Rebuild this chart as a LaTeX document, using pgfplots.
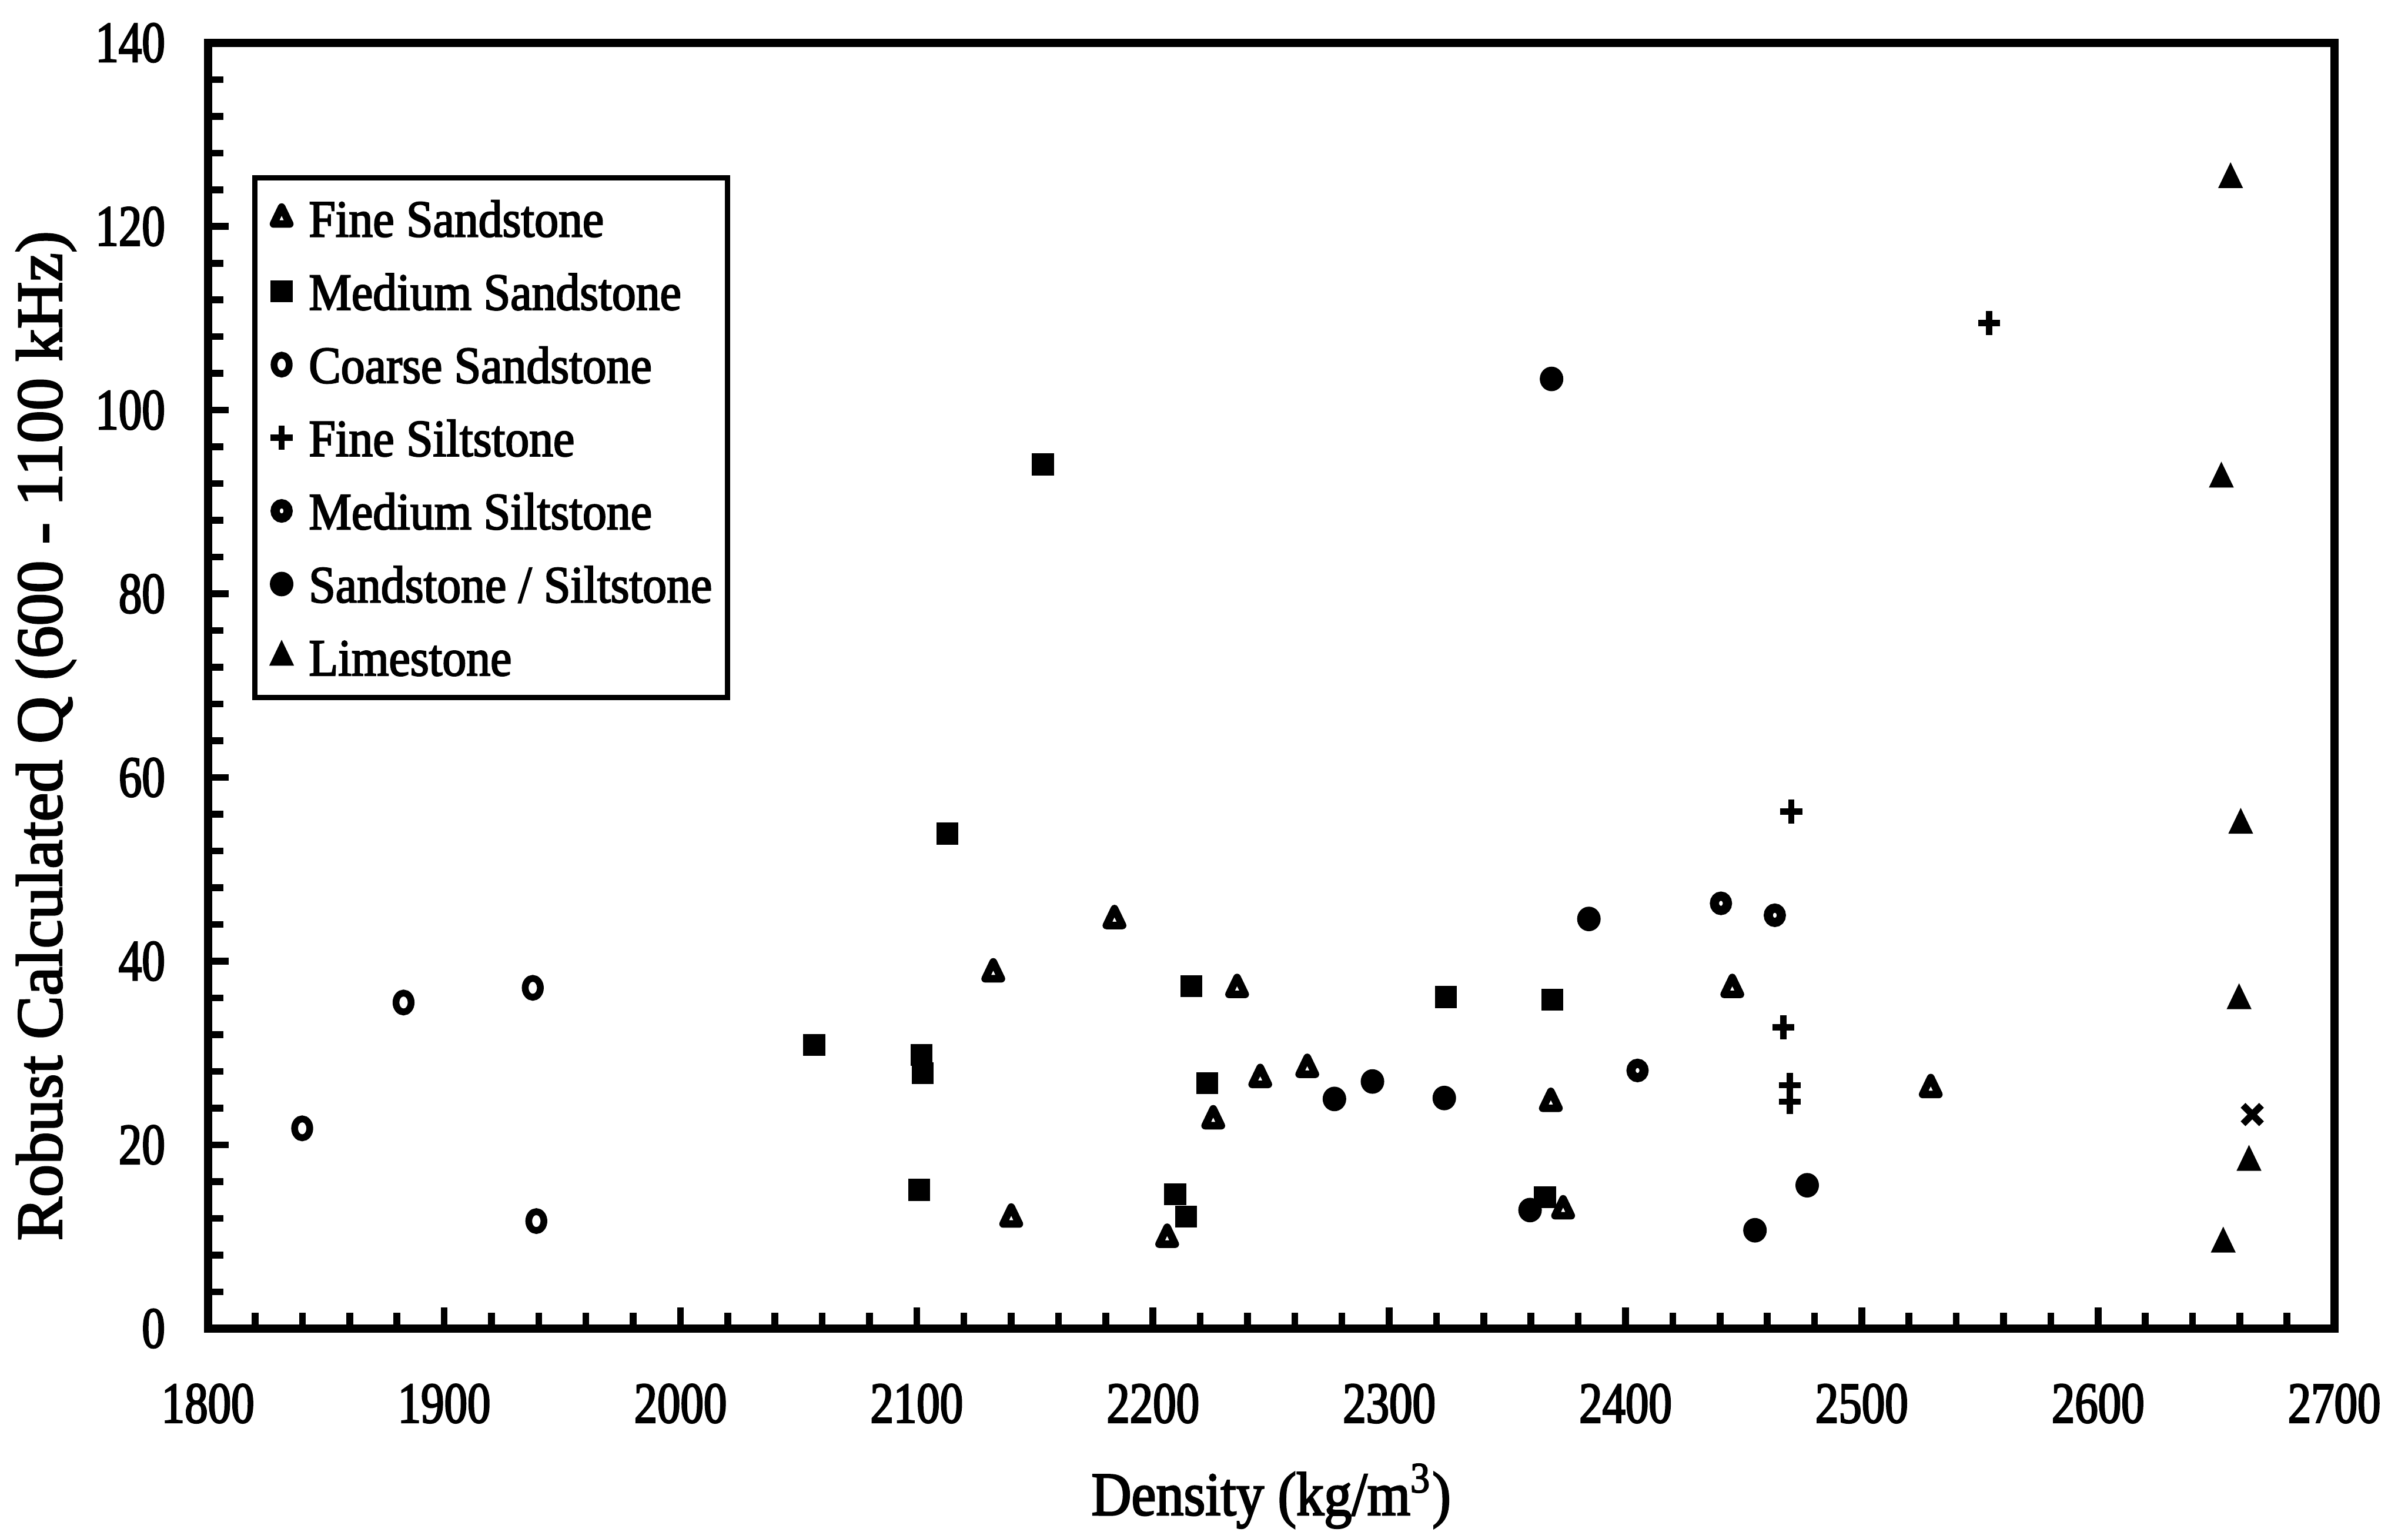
\documentclass[border=0pt]{standalone}
\usepackage{fontspec}
\setmainfont{Liberation Serif}[FakeBold=2.5]
\newfontfamily\tickfont{Liberation Serif}[FakeStretch=0.8, FakeBold=2.5]
\newfontfamily\labfont{Liberation Serif}[FakeStretch=0.9, FakeBold=2.5]
\newfontfamily\legfont{Liberation Serif}[FakeStretch=0.92, FakeBold=2.5]
\usepackage{pgfplots}
\pgfplotsset{compat=1.18}

\begin{document}
\begin{tikzpicture}
\useasboundingbox (-39.8pt,-38.9pt) rectangle (421.1pt,254.3pt);
\begin{axis}[
  at={(0pt,0pt)}, anchor=south west,
  scale only axis, width=407pt, height=246.1pt,
  xmin=1800, xmax=2700, ymin=0, ymax=140,
  xtick={1800,1900,...,2700}, ytick={0,20,...,140},
  minor x tick num=4, minor y tick num=4,
  xtick pos=bottom, ytick pos=left,
  tick align=inside,
  major tick length=4pt, minor tick length=3pt,
  every tick/.style={black, line width=1.3pt},
  axis line style={line width=1.6pt, line join=miter},
  /pgf/number format/assume math mode=true,
  /pgf/number format/1000 sep={},
  xticklabel style={font=\tickfont\fontsize{11.1}{12}\selectfont, anchor=base, inner sep=0pt, yshift=-18pt},
  yticklabel style={font=\tickfont\fontsize{11.1}{12}\selectfont, anchor=east, inner sep=0pt, xshift=-8pt},
  xlabel={Density (kg/m\textsuperscript{3})},
  ylabel={Robust Calculated Q (600 - 1100 kHz)},
  xlabel style={font=\labfont\fontsize{11.8}{13}\selectfont, at={(axis description cs:0.5,0)}, anchor=base, yshift=-35.7pt, inner sep=0pt},
  ylabel style={font=\rmfamily\fontsize{12.5}{13}\selectfont, at={(axis description cs:-0.0762,0.461)}, anchor=center, inner sep=0pt},
  legend style={at={(0.0209,0.897)}, anchor=north west, draw=black, line width=1pt, fill=white,
    inner xsep=3pt, inner ysep=3.25pt, row sep=5pt,
    font=\legfont\fontsize{10}{11}\selectfont,
    nodes={inner sep=0pt, text height=8pt, text depth=1pt},
    /tikz/every odd column/.append style={column sep=3.1pt}},
  legend cell align=left,
  legend image code/.code={\draw[mark repeat=2,mark phase=2,#1] plot coordinates {(0pt,0pt) (2.5pt,0pt) (5pt,0pt)};},
]

% Fine sandstone: open triangles
\addplot[black, only marks, mark=triangle, mark size=1.8pt,
  mark options={line width=1.45pt, line join=round, fill=white, yscale=1.2}] coordinates {
  (2132.4,38.7) (2140.0,12.0) (2183.7,44.5) (2206.0,9.8) (2225.5,22.7) (2235.6,37.0)
  (2245.4,27.2) (2265.3,28.3) (2368.4,24.6) (2373.6,12.9) (2445.2,37.0) (2529.2,26.1)
};
\addlegendentry{Fine Sandstone}

% Medium sandstone: filled squares
\addplot[black, only marks, mark=square*, mark size=1.8pt,
  mark options={line width=0.6pt, fill=black}] coordinates {
  (2056.6,30.9) (2101.1,15.1) (2102.0,29.8) (2102.5,27.8) (2113.0,53.9) (2153.4,94.1)
  (2209.4,14.6) (2214.0,12.2) (2216.2,37.3) (2222.9,26.7) (2324.0,36.1) (2365.9,14.3)
  (2369.0,35.8)
};
\addlegendentry{Medium Sandstone}

% Coarse sandstone: open circles
\addplot[black, only marks, mark=o, mark size=1.45pt,
  mark options={line width=1.3pt, yscale=1.25}] coordinates {
  (1839.9,21.8) (1882.8,35.5) (1937.5,37.1) (1939.0,11.7)
};
\addlegendentry{Coarse Sandstone}

% Fine siltstone: plus signs
\addplot[black, only marks, mark=+, mark size=2.1pt,
  mark options={line width=1.2pt, yscale=1.1}] coordinates {
  (2466.8,32.8) (2469.5,24.7) (2469.5,26.5) (2470.2,56.3) (2553.9,109.5)
};
\addlegendentry{Fine Siltstone}

% Medium siltstone: thick rings
\addplot[black, only marks, mark=o, mark size=1.25pt,
  mark options={line width=1.75pt, yscale=1.1}] coordinates {
  (2405.1,28.1) (2440.4,46.3) (2463.2,45.0)
};
\addlegendentry{Medium Siltstone}

% Sandstone / siltstone: filled circles
\addplot[black, only marks, mark=*, mark size=1.95pt,
  mark options={line width=0.6pt, fill=black, yscale=1.05}] coordinates {
  (2276.8,25.0) (2292.9,26.9) (2323.3,25.1) (2359.6,12.9) (2368.7,103.4) (2384.5,44.6)
  (2454.8,10.7) (2476.9,15.6)
};
\addlegendentry{Sandstone / Siltstone}

% Limestone: filled triangles
\addplot[black, only marks, mark=triangle*, mark size=2.2pt,
  mark options={line width=0.6pt, fill=black, yscale=1.2}] coordinates {
  (2652.2,92.5) (2653.0,9.2) (2656.1,125.1) (2659.7,35.7) (2660.4,54.8) (2663.9,18.1)
};
\addlegendentry{Limestone}

% Unlisted sample
\addplot[black, only marks, mark=x, mark size=2.5pt,
  mark options={line width=1.3pt}, forget plot] coordinates {
  (2665.3,23.3)
};

\end{axis}
\end{tikzpicture}
\end{document}
